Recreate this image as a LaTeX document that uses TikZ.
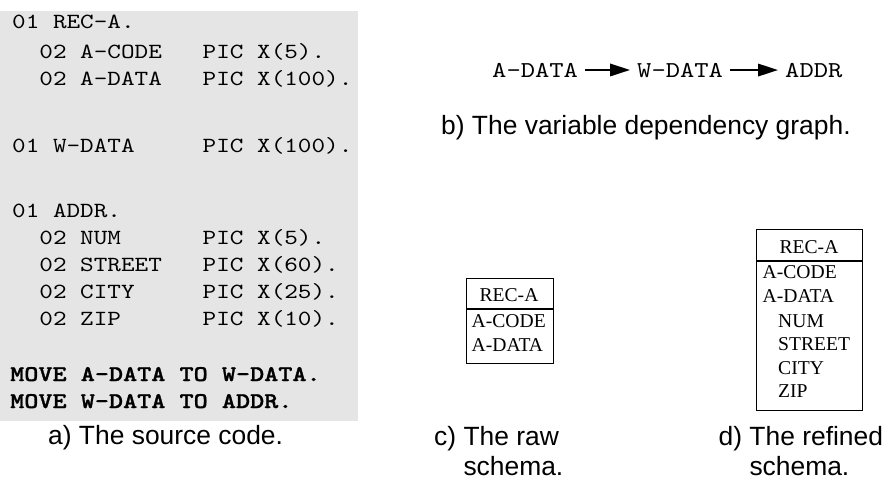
\documentclass[tikz,border=0pt]{standalone}
\usepackage{fontspec}
\setmainfont{Liberation Serif}
\setsansfont{Liberation Sans}
\newfontfamily\codefont[FakeStretch=1.2]{lmmono10-regular.otf}
\newfontfamily\codeboldfont[FakeStretch=1.2,FakeBold=1.2]{lmmonolt10-bold.otf}
\usetikzlibrary{arrows.meta}
\definecolor{codebg}{RGB}{229,229,229}
\tikzset{
  codeline/.style={anchor=base west, inner sep=0pt, font=\codefont\fontsize{21.6}{27}\selectfont},
  codebold/.style={anchor=base west, inner sep=0pt, font=\codeboldfont\fontsize{22.4}{27}\selectfont},
  capt/.style={anchor=base west, inner sep=0pt, font=\sffamily\fontsize{26.4}{31}\selectfont},
  varnode/.style={anchor=base west, inner xsep=7pt, inner ysep=0pt, font=\codefont\fontsize{22.7}{27}\selectfont},
  dep/.style={-{Triangle[length=20pt,width=12.5pt]}, line width=1.8pt},
  fieldtxt/.style={anchor=base west, inner sep=0pt, font=\rmfamily\fontsize{19.6}{23}\selectfont},
  schemabox/.style={draw, line width=1.3pt, inner sep=0pt},
  schemaline/.style={line width=1.3pt},
}
\begin{document}
\frenchspacing
\begin{tikzpicture}[x=1pt,y=-1pt]
\useasboundingbox (0,0) rectangle (885,479);
% a) source code
\fill[codebg] (0,11) rectangle (358,421);
\node[codeline] (l1) at (12,28) {01 REC-A.};
\node[codeline] (l2) at (12,58) {~~02 A-CODE~~~PIC X(5).};
\node[codeline] (l3) at (12,85) {~~02 A-DATA~~~PIC X(100).};
\node[codeline] (l4) at (12,152) {01 W-DATA~~~~~PIC X(100).};
\node[codeline] (l5) at (12,217) {01 ADDR.};
\node[codeline] (l6) at (12,244) {~~02 NUM~~~~~~PIC X(5).};
\node[codeline] (l7) at (12,271) {~~02 STREET~~~PIC X(60).};
\node[codeline] (l8) at (12,298) {~~02 CITY~~~~~PIC X(25).};
\node[codeline] (l9) at (12,325) {~~02 ZIP~~~~~~PIC X(10).};
\node[codebold] (m1) at (10,381) {MOVE A-DATA TO W-DATA.};
\node[codebold] (m2) at (10,408) {MOVE W-DATA TO ADDR.};
\node[capt] (capa) at (48,444) {a) The source code.};
% b) dependency graph
\node[varnode] (ad) at (485,77) {A-DATA};
\node[varnode] (wd) at (630,77) {W-DATA};
\node[varnode] (addr) at (778,77) {ADDR};
\draw[dep] (ad) -- (wd);
\draw[dep] (wd) -- (addr);
\node[capt] (capb) at (441,134) {b) The variable dependency graph.};
% c) raw schema
\node[schemabox, anchor=north west, minimum width=87pt, minimum height=85pt] (cbox) at (466,278) {};
\draw[schemaline] (cbox.west |- 0,309) -- (cbox.east |- 0,309);
\node[fieldtxt, anchor=base] (crec) at (509,301) {REC-A};
\node[fieldtxt] (ccode) at (471.5,327.5) {A-CODE};
\node[fieldtxt] (cdata) at (471.5,351) {A-DATA};
\node[capt] (capc1) at (434,445) {c) The raw};
\node[capt] (capc2) at (434,475) {\phantom{c)~}schema.};
% d) refined schema
\node[schemabox, anchor=north west, minimum width=106pt, minimum height=181pt] (dbox) at (756,229) {};
\draw[schemaline] (dbox.west |- 0,261) -- (dbox.east |- 0,261);
\node[fieldtxt, anchor=base] (drec) at (809,253) {REC-A};
\node[fieldtxt] (dcode) at (762.5,278) {A-CODE};
\node[fieldtxt] (ddata) at (762.5,302.5) {A-DATA};
\node[fieldtxt] (dnum) at (778,327.5) {NUM};
\node[fieldtxt] (dstreet) at (778,350.5) {STREET};
\node[fieldtxt] (dcity) at (778,374) {CITY};
\node[fieldtxt] (dzip) at (778,397.5) {ZIP};
\node[capt] (capd1) at (718.5,445) {d) The refined};
\node[capt] (capd2) at (718.5,475) {\phantom{d)~}schema.};
\end{tikzpicture}
\end{document}
